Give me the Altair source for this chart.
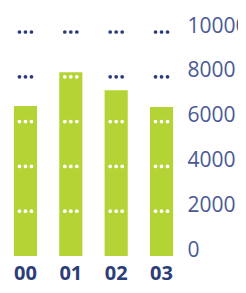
import altair as alt
import pandas as pd

categories = ["00", "01", "02", "03"]
values = [6700, 8200, 7400, 6650]
grid_ticks = [2000, 4000, 6000, 8000, 10000]
axis_ticks = [0, 2000, 4000, 6000, 8000, 10000]
dot_offsets = [-6, 0, 6]

bars = pd.DataFrame({"cat": categories, "val": values})
rows = []
for c, v in zip(categories, values):
    for t in grid_ticks:
        rows.append({"cat": c, "tick": t, "inside": "in" if t < v else "out"})
dots = pd.DataFrame(rows)

x_scale = alt.Scale(paddingInner=0.49, paddingOuter=0.13)
y_scale = alt.Scale(domain=[0, 10000], nice=False)

bar_layer = alt.Chart(bars).mark_bar(color="#b4d334").encode(
    x=alt.X("cat:N", scale=x_scale, sort=categories,
            axis=alt.Axis(title=None, labelAngle=0, domain=False, ticks=False,
                          labelFont="Open Sans", labelFontSize=20, labelFontWeight="bold",
                          labelColor="#2d3d78", labelPadding=7, labelBaseline="top")),
    y=alt.Y("val:Q", scale=y_scale,
            axis=alt.Axis(orient="right", title=None, values=axis_ticks, grid=False, format="d",
                          domain=False, ticks=False, labelFont="Open Sans", labelFontSize=21,
                          labelColor="#4a5996", labelPadding=8, labelBaseline="alphabetic",
                          labelAlign="left", labelFlush=False, labelLimit=200)),
)

dot_layers = [
    alt.Chart(dots).mark_circle(size=14, opacity=1, xOffset=off).encode(
        x=alt.X("cat:N", scale=x_scale, sort=categories),
        y=alt.Y("tick:Q", scale=y_scale),
        color=alt.Color("inside:N", scale=alt.Scale(domain=["in", "out"], range=["#ffffff", "#2b3a7c"]), legend=None),
    )
    for off in dot_offsets
]

chart = alt.layer(bar_layer, *dot_layers).properties(
    width=171, height=224,
    autosize=alt.AutoSizeParams(type="none"),
    padding={"left": 0, "top": 24, "right": 59, "bottom": 29},
).configure_view(stroke=None)

chart.save("out.html", embed_options={"renderer": "svg", "actions": False})
